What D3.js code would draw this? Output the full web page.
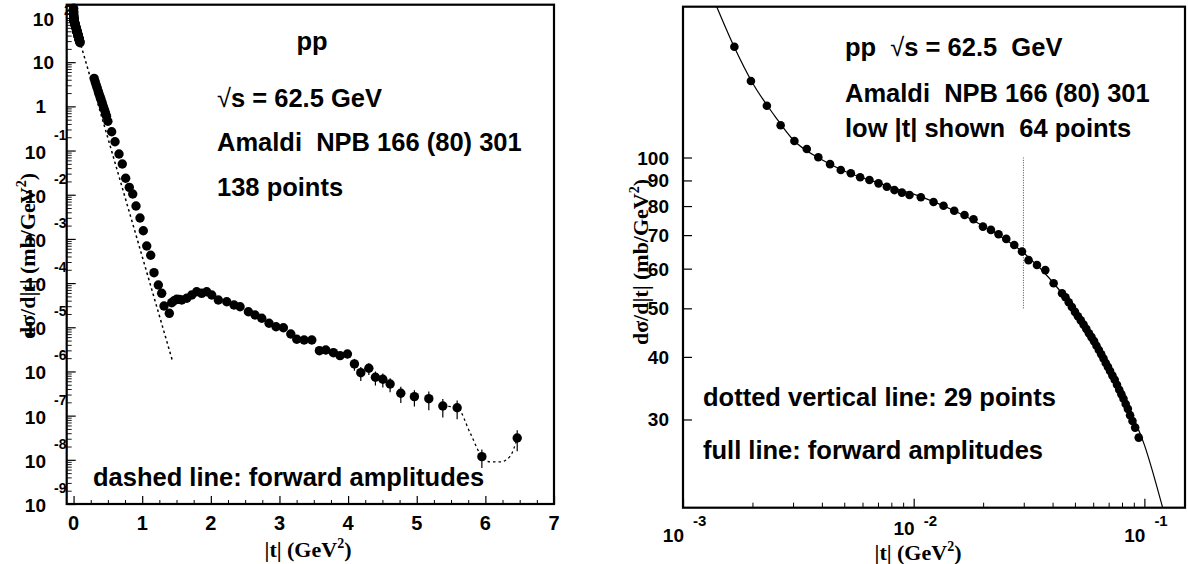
<!DOCTYPE html>
<html>
<head>
<meta charset="utf-8">
<script src="https://cdn.jsdelivr.net/npm/d3@7"></script>
<style>
  body { margin: 0; background: #fff; }
  svg { display: block; }
  .lab { font-family: "Liberation Sans", Arial, sans-serif; font-weight: bold; fill: #000; }
  .ttl { font-family: "Liberation Serif", "Times New Roman", serif; font-weight: bold; fill: #000; }
</style>
</head>
<body>
<div id="chart"></div>
<script>
// low |t| points (shown on both panels), |t| in GeV^2, dsigma/dt in mb/GeV^2
var lowT = [0.00167, 0.00197, 0.00231, 0.00265, 0.00304, 0.00344, 0.00386, 0.00434, 0.00483, 0.00534,
            0.00586, 0.00643, 0.00704, 0.00765, 0.00825, 0.00889, 0.00959, 0.01074, 0.01219, 0.01347,
            0.01499, 0.01661, 0.01817, 0.01996, 0.02162, 0.02333, 0.02519, 0.02729, 0.02947, 0.03148,
            0.03423, 0.03720, 0.04042, 0.04395, 0.0455, 0.0470, 0.0485, 0.0500, 0.0515, 0.0530,
            0.0545, 0.0560, 0.0575, 0.0590, 0.0605, 0.0620, 0.0635, 0.0650, 0.0665, 0.0680,
            0.0695, 0.0710, 0.0727, 0.0744, 0.0761, 0.0778, 0.0795, 0.0812, 0.0830, 0.0848,
            0.0867, 0.0888, 0.0912, 0.0945];
var lowV = [166.4, 142.1, 126.9, 116.0, 107.9, 104.0, 100.1, 97.0, 94.4, 93.0,
            91.3, 90.2, 88.8, 87.4, 86.1, 85.1, 84.2, 83.3, 81.5, 80.1,
            78.3, 76.8, 75.3, 72.8, 71.7, 70.3, 68.8, 66.9, 64.9, 62.4,
            61.0, 59.6, 56.1, 53.6, 52.6, 51.4, 50.3, 49.2, 48.2, 47.3,
            46.4, 45.5, 44.6, 43.8, 43.0, 42.1, 41.3, 40.5, 39.7, 38.9,
            38.2, 37.5, 36.7, 36.0, 35.2, 34.4, 33.7, 33.0, 32.2, 31.5,
            30.6, 29.8, 28.9, 27.6];

// larger |t| points (left panel only)
var highT = [0.300, 0.315, 0.330, 0.345, 0.360, 0.375, 0.390, 0.405, 0.420, 0.435, 0.450, 0.465, 0.480, 0.500,
             0.555, 0.604, 0.662, 0.710, 0.759, 0.812, 0.862, 0.910, 0.968, 1.016, 1.066, 1.124, 1.172, 1.235,
             1.284, 1.318, 1.395,
             1.430, 1.465, 1.503, 1.540, 1.576, 1.649, 1.722, 1.794, 1.867, 1.940, 2.013, 2.109, 2.232, 2.338,
             2.426, 2.547, 2.644, 2.742, 2.848, 2.950, 3.057, 3.165, 3.252, 3.359, 3.471, 3.582, 3.675, 3.786,
             3.883, 3.990, 4.092, 4.185, 4.302, 4.398, 4.506, 4.612, 4.768, 4.966, 5.176, 5.380, 5.589, 5.949,
             6.464];
var highV = [4.3, 3.6, 3.05, 2.6, 2.2, 1.85, 1.6, 1.35, 1.15, 0.98, 0.84, 0.71, 0.6, 0.46,
             0.267, 0.158, 0.0836, 0.0497, 0.0236, 0.0147, 0.0104, 0.00556, 0.00298, 0.00153, 6.92e-4, 4.26e-4, 1.72e-4, 9.06e-5,
             5.87e-5, 3.03e-5, 2.07e-5,
             3.60e-5, 3.98e-5, 4.30e-5, 4.27e-5, 4.14e-5, 4.53e-5, 5.38e-5, 6.38e-5, 5.87e-5, 6.38e-5, 5.38e-5, 4.14e-5, 3.79e-5, 3.19e-5,
             2.92e-5, 2.25e-5, 1.90e-5, 1.60e-5, 1.23e-5, 1.03e-5, 9.77e-6, 7.05e-6, 5.35e-6, 5.15e-6, 5.15e-6, 2.95e-6, 3.06e-6, 2.66e-6,
             2.28e-6, 2.48e-6, 1.48e-6, 9.38e-7, 1.18e-6, 7.38e-7, 6.65e-7, 5.20e-7, 3.21e-7, 2.69e-7, 2.42e-7, 1.65e-7, 1.51e-7, 1.18e-8,
             3.12e-8];
// relative errors of the larger |t| points
var highErr = [0.05, 0.05, 0.05, 0.05, 0.05, 0.05, 0.05, 0.05, 0.05, 0.05, 0.05, 0.05, 0.05, 0.05,
               0.05, 0.05, 0.05, 0.05, 0.05, 0.05, 0.05, 0.05, 0.05, 0.05, 0.05, 0.05, 0.05, 0.05,
               0.05, 0.05, 0.05,
               0.05, 0.05, 0.05, 0.05, 0.05, 0.05, 0.05, 0.05, 0.05, 0.05, 0.05, 0.05, 0.05, 0.05,
               0.08, 0.08, 0.08, 0.08, 0.1, 0.1, 0.1, 0.1, 0.12, 0.12, 0.12, 0.2, 0.2, 0.2,
               0.2, 0.2, 0.3, 0.35, 0.3, 0.35, 0.35, 0.35, 0.4, 0.4, 0.45, 0.45, 0.45, 0.45,
               0.5];

// forward amplitude curves
var fitLeftT = [0.001, 0.01, 0.03, 0.06, 0.1, 1.437];
var fitLeftV = [170, 84.5, 64.5, 43.3, 26.7, 1.82e-6];
var fitTailT = [5.38, 5.589, 5.78, 5.949, 6.07, 6.22, 6.36, 6.464];
var fitTailV = [1.65e-7, 1.51e-7, 4.0e-8, 1.18e-8, 9.0e-9, 9.0e-9, 1.2e-8, 3.12e-8];
var fitRightT = [0.0014, 0.00167, 0.002, 0.0025, 0.003, 0.004, 0.005, 0.007, 0.01, 0.015, 0.02, 0.03, 0.04, 0.05, 0.06, 0.08, 0.1, 0.12];
var fitRightV = [200, 166, 141, 121, 108.5, 99, 94, 89, 84.5, 78.3, 73, 64.5, 56.5, 49.4, 43.3, 33.6, 26.7, 20];
var dottedT = 0.0299, dottedV = [50, 100];

// tick labels
var leftXTicks = [0, 1, 2, 3, 4, 5, 6, 7];
var leftYExps = [-9, -8, -7, -6, -5, -4, -3, -2, -1, 0, 1, 2];
var rightXExps = [-3, -2, -1];
var rightYTicks = [30, 40, 50, 60, 70, 80, 90, 100];

var W = 1188, H = 564;
var svg = d3.select("#chart").append("svg").attr("width", W).attr("height", H);
svg.append("rect").attr("width", W).attr("height", H).attr("fill", "#fff");

// ---------- left panel ----------
var xL = d3.scaleLinear().domain([-0.1, 7]).range([66.7, 554]);
var yL = d3.scaleLog().domain([1e-9, 200]).range([504, 4.7]);

var gL = svg.append("g");

var minorXL = d3.range(0, 7.001, 0.25).filter(function(d) { return d % 1 !== 0; });
gL.append("g").attr("transform", "translate(0," + yL.range()[0] + ")")
  .call(d3.axisBottom(xL).tickValues(leftXTicks).tickSize(-8).tickFormat(""))
  .call(function(g) { g.select(".domain").remove(); g.selectAll("line").attr("stroke-width", 1.2); });
gL.append("g").attr("transform", "translate(0," + yL.range()[0] + ")")
  .call(d3.axisBottom(xL).tickValues(minorXL).tickSize(-4).tickFormat(""))
  .call(function(g) { g.select(".domain").remove(); g.selectAll("line").attr("stroke-width", 1); });

var majorYL = leftYExps.map(function(e) { return Math.pow(10, e); });
var minorYL = [];
leftYExps.forEach(function(e) {
  d3.range(2, 10).forEach(function(m) {
    var v = m * Math.pow(10, e);
    if (v <= yL.domain()[1]) minorYL.push(v);
  });
});
gL.append("g").attr("transform", "translate(" + xL.range()[0] + ",0)")
  .call(d3.axisLeft(yL).tickValues(majorYL).tickSize(-9).tickFormat(""))
  .call(function(g) { g.select(".domain").remove(); g.selectAll("line").attr("stroke-width", 1.2); });
gL.append("g").attr("transform", "translate(" + xL.range()[0] + ",0)")
  .call(d3.axisLeft(yL).tickValues(minorYL).tickSize(-5).tickFormat(""))
  .call(function(g) { g.select(".domain").remove(); g.selectAll("line").attr("stroke-width", 0.9); });

// frame
gL.append("rect").attr("x", xL.range()[0]).attr("y", yL.range()[1])
  .attr("width", xL.range()[1] - xL.range()[0]).attr("height", yL.range()[0] - yL.range()[1])
  .attr("fill", "none").attr("stroke", "#000").attr("stroke-width", 2.2);

// dashed forward amplitude curves
var lineL = d3.line().x(function(d) { return xL(d[0]); }).y(function(d) { return yL(d[1]); });
gL.append("path").datum(d3.zip(fitLeftT, fitLeftV)).attr("d", lineL)
  .attr("fill", "none").attr("stroke", "#000").attr("stroke-width", 1.5).attr("stroke-dasharray", "2.5,3");
gL.append("path").datum(d3.zip(fitTailT, fitTailV)).attr("d", lineL.curve(d3.curveMonotoneX))
  .attr("fill", "none").attr("stroke", "#000").attr("stroke-width", 1.3).attr("stroke-dasharray", "2.5,3");

// error bars
var highPts = d3.zip(highT, highV, highErr);
gL.selectAll(".eb").data(highPts).enter().append("line")
  .attr("x1", function(d) { return xL(d[0]); }).attr("x2", function(d) { return xL(d[0]); })
  .attr("y1", function(d) { return yL(d[1] * (1 + d[2])); })
  .attr("y2", function(d) { return yL(d[1] * (1 - d[2])); })
  .attr("stroke", "#000").attr("stroke-width", 1.2);

// markers
var allLeft = d3.zip(lowT, lowV).concat(d3.zip(highT, highV));
gL.selectAll(".pt").data(allLeft).enter().append("circle")
  .attr("cx", function(d) { return xL(d[0]); }).attr("cy", function(d) { return yL(d[1]); })
  .attr("r", 4.7).attr("fill", "#000");

// x labels
gL.selectAll(".xl").data(leftXTicks).enter().append("text").attr("class", "lab")
  .attr("x", function(d) { return xL(d); }).attr("y", 530)
  .attr("text-anchor", "middle").style("font-size", "20px").text(function(d) { return d; });

// y labels (ROOT style 10^k)
leftYExps.forEach(function(e) {
  var ty = yL(Math.pow(10, e));
  if (e === 0) {
    gL.append("text").attr("class", "lab").attr("x", 46).attr("y", ty + 7)
      .attr("text-anchor", "end").style("font-size", "19px").text("1");
  } else if (e === 1) {
    gL.append("text").attr("class", "lab").attr("x", 54).attr("y", ty + 7)
      .attr("text-anchor", "end").style("font-size", "19px").text("10");
  } else if (e === 2) {
    gL.append("text").attr("class", "lab").attr("x", 54).attr("y", ty + 8)
      .attr("text-anchor", "end").style("font-size", "19px").text("10");
    gL.append("text").attr("class", "lab").attr("x", 64).attr("y", ty - 3)
      .style("font-size", "14px").text(e);
  } else {
    gL.append("text").attr("class", "lab").attr("x", 46).attr("y", ty + 8)
      .attr("text-anchor", "end").style("font-size", "19px").text("10");
    gL.append("text").attr("class", "lab").attr("x", 54).attr("y", ty - 11)
      .style("font-size", "14px").text(e);
  }
});

// texts
gL.append("text").attr("class", "lab").attr("x", 312).attr("y", 50).attr("text-anchor", "middle")
  .style("font-size", "25.5px").text("pp");
gL.append("text").attr("class", "lab").attr("x", 217).attr("y", 107).style("font-size", "25.5px")
  .html('<tspan style="font-weight:normal">\u221A</tspan>s = 62.5 GeV');
gL.append("text").attr("class", "lab").attr("x", 217).attr("y", 151).style("font-size", "25.5px")
  .attr("xml:space", "preserve").text("Amaldi  NPB 166 (80) 301");
gL.append("text").attr("class", "lab").attr("x", 217).attr("y", 196).style("font-size", "25.5px")
  .text("138 points");
gL.append("text").attr("class", "lab").attr("x", 93).attr("y", 486).style("font-size", "25.5px")
  .text("dashed line: forward amplitudes");

// axis titles
gL.append("text").attr("class", "ttl").attr("x", 308).attr("y", 557).attr("text-anchor", "middle")
  .style("font-size", "22px").html('|t| (GeV<tspan dy="-9" style="font-size:14px">2</tspan><tspan dy="9">)</tspan>');
gL.append("text").attr("class", "ttl").attr("transform", "translate(35,256) rotate(-90)")
  .attr("text-anchor", "middle").style("font-size", "22px")
  .html('d\u03C3/d|t| (mb/GeV<tspan dy="-9" style="font-size:14px">2</tspan><tspan dy="9">)</tspan>');

// ---------- right panel ----------
var xR = d3.scaleLog().domain([0.001, 0.15]).range([683, 1185]);
var yR = d3.scaleLog().domain([20, 200]).range([507.7, 6.7]);
var gR = svg.append("g");

var majorXR = rightXExps.map(function(e) { return Math.pow(10, e); });
var minorXR = [];
rightXExps.forEach(function(e) {
  d3.range(2, 10).forEach(function(m) {
    var v = m * Math.pow(10, e);
    if (v <= xR.domain()[1]) minorXR.push(v);
  });
});
gR.append("g").attr("transform", "translate(0," + yR.range()[0] + ")")
  .call(d3.axisBottom(xR).tickValues(majorXR).tickSize(-9).tickFormat(""))
  .call(function(g) { g.select(".domain").remove(); g.selectAll("line").attr("stroke-width", 1.2); });
gR.append("g").attr("transform", "translate(0," + yR.range()[0] + ")")
  .call(d3.axisBottom(xR).tickValues(minorXR).tickSize(-5).tickFormat(""))
  .call(function(g) { g.select(".domain").remove(); g.selectAll("line").attr("stroke-width", 1); });
gR.append("g").attr("transform", "translate(" + xR.range()[0] + ",0)")
  .call(d3.axisLeft(yR).tickValues(rightYTicks).tickSize(-9).tickFormat(""))
  .call(function(g) { g.select(".domain").remove(); g.selectAll("line").attr("stroke-width", 1.2); });

gR.append("rect").attr("x", xR.range()[0]).attr("y", yR.range()[1])
  .attr("width", xR.range()[1] - xR.range()[0]).attr("height", yR.range()[0] - yR.range()[1])
  .attr("fill", "none").attr("stroke", "#000").attr("stroke-width", 2.2);

rightXExps.forEach(function(e) {
  var tx = xR(Math.pow(10, e));
  var dy = e === -2 ? -7 : 0;
  gR.append("text").attr("class", "lab").attr("x", tx + 1).attr("y", 542 + dy)
    .attr("text-anchor", "end").style("font-size", "19px").text("10");
  gR.append("text").attr("class", "lab").attr("x", tx + 10).attr("y", 526)
    .style("font-size", "15px").text(e);
});
gR.selectAll(".yl").data(rightYTicks).enter().append("text").attr("class", "lab")
  .attr("x", 669).attr("y", function(d) { return yR(d) + 7; })
  .attr("text-anchor", "end").style("font-size", "19px").text(function(d) { return d; });

// dotted vertical line
gR.append("line").attr("x1", xR(dottedT)).attr("x2", xR(dottedT))
  .attr("y1", yR(dottedV[0])).attr("y2", yR(dottedV[1]))
  .attr("stroke", "#444").attr("stroke-width", 1).attr("stroke-dasharray", "1,1.5");

// full line
var lineR = d3.line().curve(d3.curveMonotoneX)
  .x(function(d) { return xR(d[0]); }).y(function(d) { return yR(d[1]); });
gR.append("path").datum(d3.zip(fitRightT, fitRightV)).attr("d", lineR)
  .attr("fill", "none").attr("stroke", "#000").attr("stroke-width", 1.2);

gR.selectAll(".pt").data(d3.zip(lowT, lowV)).enter().append("circle")
  .attr("cx", function(d) { return xR(d[0]); }).attr("cy", function(d) { return yR(d[1]); })
  .attr("r", 4.3).attr("fill", "#000");

gR.append("text").attr("class", "lab").attr("x", 845).attr("y", 56).style("font-size", "25.5px")
  .attr("xml:space", "preserve")
  .html('pp  <tspan style="font-weight:normal">\u221A</tspan>s = 62.5  GeV');
gR.append("text").attr("class", "lab").attr("x", 845).attr("y", 102).style("font-size", "25.5px")
  .attr("xml:space", "preserve").text("Amaldi  NPB 166 (80) 301");
gR.append("text").attr("class", "lab").attr("x", 845).attr("y", 137).style("font-size", "25.5px")
  .attr("xml:space", "preserve").text("low |t| shown  64 points");
gR.append("text").attr("class", "lab").attr("x", 703).attr("y", 406).style("font-size", "25.5px")
  .text("dotted vertical line: 29 points");
gR.append("text").attr("class", "lab").attr("x", 703).attr("y", 459).style("font-size", "25.5px")
  .text("full line: forward amplitudes");

gR.append("text").attr("class", "ttl").attr("x", 918).attr("y", 560).attr("text-anchor", "middle")
  .style("font-size", "22px").html('|t| (GeV<tspan dy="-9" style="font-size:14px">2</tspan><tspan dy="9">)</tspan>');
gR.append("text").attr("class", "ttl").attr("transform", "translate(648,262) rotate(-90)")
  .attr("text-anchor", "middle").style("font-size", "22px")
  .html('d\u03C3/d|t| (mb/GeV<tspan dy="-9" style="font-size:14px">2</tspan><tspan dy="9">)</tspan>');
</script>
</body>
</html>
